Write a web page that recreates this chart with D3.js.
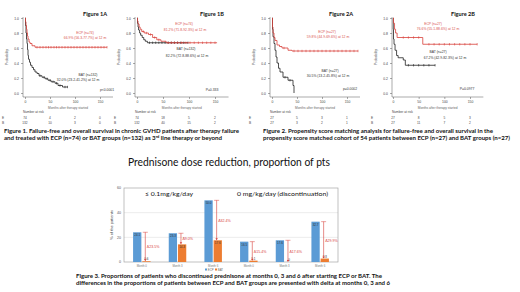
<!DOCTYPE html>
<html><head><meta charset="utf-8">
<script src="https://cdn.jsdelivr.net/npm/d3@7"></script>
<style>body{margin:0;background:#fff}svg{display:block}</style>
</head><body><svg id="c" width="520" height="292"></svg>
<script>
// ---------- KM data ----------
const kmXTicks = [0, 50, 100, 150];
const kmYTicks = [0, 0.2, 0.4, 0.6, 0.8, 1.0];

const f1aECP = [[0,1],[1,0.95],[2,0.9],[3,0.85],[4,0.8],[5,0.76],[6,0.72],[8,0.68],[10,0.66],[14,0.63],[20,0.61]];
const f1aECPEnd = 164;
const f1aECPCens = [24,30,36,42,47,52,58,63,68,74,80,86,92,98,104,110,116,122,128,134,140,146,152,158,164];
const f1aBAT = [[0,1],[1,0.9],[2,0.8],[3,0.72],[4,0.66],[5,0.58],[6,0.5],[7,0.45],[9,0.41],[11,0.37],[14,0.34],[17,0.31],[20,0.28],[24,0.26],[28,0.23],[34,0.21],[40,0.19],[46,0.17],[52,0.15],[60,0.13],[66,0.1],[75,0.08]];
const f1aBATEnd = 85;
const f1aBATCens = [30,38,44,50,56,63,70,80,85];

const f1bECP = [[0,1],[1,0.96],[2,0.92],[4,0.88],[6,0.85],[9,0.82],[14,0.8],[22,0.78],[30,0.74],[38,0.71],[46,0.69],[56,0.67]];
const f1bECPEnd = 154;
const f1bECPCens = [12,18,26,34,42,60,66,72,78,86,94,102,110,118,126,134,142,150];
const f1bBAT = [[0,1],[1,0.93],[2,0.88],[3,0.84],[5,0.8],[7,0.77],[10,0.74],[13,0.71],[16,0.69],[20,0.67]];
const f1bBATEnd = 98;
const f1bBATCens = [24,30,36,42,48,54,60,66,72,78,84,90,98];

const f2aECP = [[0,1],[1,0.88],[2,0.8],[4,0.74],[6,0.7],[10,0.64],[15,0.62],[20,0.6],[32,0.57],[40,0.56]];
const f2aECPEnd = 172;
const f2aECPCens = [24,44,52,60,68,76,84,92,100,108,116,124,132,140,148,156,164,172];
const f2aBAT = [[0,1],[1,0.85],[2,0.75],[4,0.66],[6,0.57],[8,0.48],[10,0.4],[13,0.33],[16,0.28],[22,0.21],[32,0.17],[42,0.1],[44,0]];
const f2aBATEnd = 44;
const f2aBATCens = [26,36];

const f2bECP = [[0,1],[1,0.93],[3,0.85],[5,0.8],[8,0.74],[58,0.65]];
const f2bECPEnd = 164;
const f2bECPCens = [20,30,40,50,70,80,90,100,110,120,130,140,150,164];
const f2bBAT = [[0,1],[0.5,0.85],[1,0.72],[2,0.65],[4,0.57],[7,0.5],[10,0.47],[20,0.44],[24,0.37]];
const f2bBATEnd = 82;
const f2bBATCens = [30,40,50,60,70,82];

const f1aRisk = [["74","4","2","0"],["132","10","3","0"]];
const f1bRisk = [["74","18","5","2"],["132","40","15","2"]];
const f2aRisk = [["27","5","3","1"],["27","3","2","1"]];
const f2bRisk = [["27","8","5","3"],["27","11","7","2"]];

// ---------- Bar data ----------
const barGroups = ["Month 0","Month 3","Month 6","Month 0","Month 3","Month 6"];
const ecpVals = [24.1, 23.3, 50.0, 16.5, 17.6, 32.7];
const batVals = [0.6, 14.3, 17.6, 1.1, 0, 2.8];
const deltaLabels = ["\u039423.5%","\u03949.0%","\u039432.4%","\u039415.4%","\u039417.6%","\u039429.9%"];
const barYTicks = [0, 20, 40, 60];

// ---------- drawing ----------
const svg = d3.select("#c");
const FONT = "'Liberation Sans', Arial, sans-serif";
const CAP = "Lato, 'Open Sans', sans-serif";
const RED = "#d8403a";
const TRED = "#d9534f";

function survAt(steps, t){ let s = steps[0][1]; for(const p of steps){ if(p[0] <= t) s = p[1]; } return s; }

function kmPanel(c){
  const g = svg.append("g");
  const x = d3.scaleLinear().domain([0,150]).range([c.x0, c.x150]);
  const y = d3.scaleLinear().domain([0,1]).range([93,18]);
  // axes lines
  g.append("line").attr("x1",c.axisX).attr("x2",c.axisX).attr("y1",17).attr("y2",97).attr("stroke","#555").attr("stroke-width",0.5);
  g.append("line").attr("x1",c.axisX).attr("x2",x(176)).attr("y1",97).attr("y2",97).attr("stroke","#555").attr("stroke-width",0.5);
  const ya = g.append("g").attr("transform",`translate(${c.axisX},0)`)
    .call(d3.axisLeft(y).tickValues(kmYTicks).tickSize(2).tickPadding(2).tickFormat(d3.format(".1f")));
  ya.select(".domain").remove();
  ya.selectAll("line").attr("stroke","#555").attr("stroke-width",0.5);
  ya.selectAll("text").attr("font-size",3.4).attr("font-family",FONT).attr("fill","#444");
  const xa = g.append("g").attr("transform",`translate(0,97)`)
    .call(d3.axisBottom(x).tickValues(kmXTicks).tickSize(2).tickPadding(1.5));
  xa.select(".domain").remove();
  xa.selectAll("line").attr("stroke","#555").attr("stroke-width",0.5);
  xa.selectAll("text").attr("font-size",3.4).attr("font-family",FONT).attr("fill","#444");
  g.append("text").attr("transform",`translate(${c.axisX-15},57) rotate(-90)`).attr("text-anchor","middle")
    .attr("font-size",3.4).attr("font-family",FONT).attr("fill","#444").text("Probability");
  g.append("text").attr("x",(c.axisX+x(176))/2).attr("y",108.5).attr("text-anchor","middle")
    .attr("font-size",3.2).attr("font-family",FONT).attr("fill","#666").text("Months after therapy started");
  g.append("text").attr("x",c.axisX).attr("y",113).attr("font-size",3.2).attr("font-family",FONT).attr("fill","#444").text("Number at risk");
  c.risk.forEach((row,ri)=>{
    g.append("text").attr("x",c.axisX-21).attr("y",118.5+ri*5).attr("font-size",3.2).attr("font-family",FONT).attr("fill","#444").text(ri===0?"E":"B");
    row.forEach((v,i)=>{
      g.append("text").attr("x",x(kmXTicks[i])).attr("y",118.5+ri*5).attr("text-anchor","middle")
        .attr("font-size",3.2).attr("font-family",FONT).attr("fill","#444").text(v);
    });
  });
  const line = d3.line().x(d=>x(d[0])).y(d=>y(d[1])).curve(d3.curveStepAfter);
  const curves = [
    {steps:c.ecp, end:c.ecpEnd, cens:c.ecpCens, col:RED},
    {steps:c.bat, end:c.batEnd, cens:c.batCens, col:"#222"}
  ];
  (c.batFirst ? curves : curves.slice().reverse()).forEach(cv=>{
    const pts = cv.steps.concat([[cv.end, cv.steps[cv.steps.length-1][1]]]);
    g.append("path").attr("d",line(pts)).attr("fill","none").attr("stroke",cv.col).attr("stroke-width",0.8);
    g.selectAll(null).data(cv.cens).enter().append("line")
      .attr("x1",d=>x(d)).attr("x2",d=>x(d)).attr("y1",d=>y(survAt(cv.steps,d))-1.2).attr("y2",d=>y(survAt(cv.steps,d))+1.2)
      .attr("stroke",cv.col).attr("stroke-width",0.6);
  });
  // title
  g.append("text").attr("x",c.titleX).attr("y",16).attr("font-size",5.6).attr("font-weight","bold").attr("font-family",CAP).attr("fill","#111").text(c.title);
  c.notes.forEach(n=>{
    g.append("text").attr("x",n[0]).attr("y",n[1]).attr("text-anchor","middle").attr("font-size",3.4)
      .attr("font-family",FONT).attr("fill",n[3]).text(n[2]);
  });
}

kmPanel({x0:25,x150:100,axisX:23,title:"Figure 1A",titleX:83,risk:f1aRisk,
  ecp:f1aECP,ecpEnd:f1aECPEnd,ecpCens:f1aECPCens,bat:f1aBAT,batEnd:f1aBATEnd,batCens:f1aBATCens,
  notes:[[85,34,"ECP (n=74)",TRED],[85,39,"66.9% (56.3-77.7%) at 12 m",TRED],[88,76,"BAT (n=132)","#333"],[78,81,"32.0% (23.2-41.2%) at 12 m","#333"],[107,91,"p<0.0001","#333"]]});
kmPanel({x0:137,x150:215,axisX:135,title:"Figure 1B",titleX:200,risk:f1bRisk,
  ecp:f1bECP,ecpEnd:f1bECPEnd,ecpCens:f1bECPCens,bat:f1bBAT,batEnd:f1bBATEnd,batCens:f1bBATCens,
  notes:[[184,25,"ECP (n=74)",TRED],[185,31,"81.2% (71.8-92.3%) at 12 m",TRED],[186,50,"BAT (n=132)","#333"],[187,57,"82.2% (72.8-88.6%) at 12 m","#333"],[212,91,"P=0.333","#333"]]});
kmPanel({x0:272,x150:347,axisX:270,title:"Figure 2A",titleX:329,risk:f2aRisk,
  ecp:f2aECP,ecpEnd:f2aECPEnd,ecpCens:f2aECPCens,bat:f2aBAT,batEnd:f2aBATEnd,batCens:f2aBATCens,
  notes:[[327,33,"ECP (n=27)",TRED],[328,38,"59.8% (44.9-69.6%) at 12 m",TRED],[330,72,"BAT (n=27)","#333"],[328,77,"30.5% (13.2-45.8%) at 12 m","#333"],[350,90,"p=0.0002","#333"]]});
kmPanel({x0:393,x150:470,axisX:392,title:"Figure 2B",titleX:451,risk:f2bRisk,
  ecp:f2bECP,ecpEnd:f2bECPEnd,ecpCens:f2bECPCens,bat:f2bBAT,batEnd:f2bBATEnd,batCens:f2bBATCens,
  notes:[[433,25,"ECP (n=27)",TRED],[438,30,"76.6% (55.1-88.6%) at 12 m",TRED],[438,53,"BAT (n=27)","#333"],[445,59,"67.2% (42.9-82.3%) at 12 m","#333"],[467,90,"P=0.0977","#333"]]});

// captions
function cap(x,y,len,parts,size){
  const t = svg.append("text").attr("x",x).attr("y",y).attr("font-size",size||5.6).attr("font-weight","bold")
    .attr("font-family",CAP).attr("fill","#111").attr("textLength",len).attr("lengthAdjust","spacingAndGlyphs");
  parts.forEach(p=>{
    const s = t.append("tspan").text(p.t);
    if(p.sup) s.attr("baseline-shift","super").attr("font-size",3.6);
  });
}
cap(4,133,235,[{t:"Figure 1. Failure-free and overall survival in chronic GVHD patients after therapy failure"}]);
cap(4,140,218,[{t:"and treated with ECP (n=74) or BAT groups (n=132) as 3"},{t:"rd",sup:true},{t:" line therapy or beyond"}]);
cap(263,133,230,[{t:"Figure 2. Propensity score matching analysis for failure-free and overall survival in the"}]);
cap(263,140,247,[{t:"propensity score matched cohort of 54 patients between ECP (n=27) and BAT groups (n=27)"}]);
cap(76,278,306,[{t:"Figure 3. Proportions of patients who discontinued prednisone at months 0, 3 and 6 after starting ECP or BAT. The"}]);
cap(76,285,314,[{t:"differences in the proportions of patients between ECP and BAT groups are presented with delta at months 0, 3 and 6"}]);

// main title
svg.append("text").attr("x",128).attr("y",166).attr("font-size",10.5).attr("font-family",CAP).attr("fill","#111")
  .attr("textLength",202).attr("lengthAdjust","spacingAndGlyphs").text("Prednisone dose reduction, proportion of pts");

// ---------- bar chart ----------
const bx = d3.scaleBand().domain(d3.range(barGroups.length)).range([124,338]);
const by = d3.scaleLinear().domain([0,60]).range([262,188]);
const sub = d3.scaleBand().domain(["ECP","BAT"]).range([0,17.5]).paddingInner(0.1);
const bg = svg.append("g");
bg.selectAll(null).data(barYTicks.filter(d=>d>0 && d<60)).enter().append("line")
  .attr("x1",124).attr("x2",338).attr("y1",d=>by(d)).attr("y2",d=>by(d)).attr("stroke","#d9d9d9").attr("stroke-width",0.5);
bg.append("rect").attr("x",124).attr("y",by(60)).attr("width",214).attr("height",by(0)-by(60))
  .attr("fill","none").attr("stroke","#a6a6a6").attr("stroke-width",0.7);
bg.selectAll(null).data(barYTicks).enter().append("text").attr("x",121).attr("y",d=>by(d)+1.2)
  .attr("text-anchor","end").attr("font-size",3.6).attr("font-family",FONT).attr("fill","#555").text(d=>d);
bg.append("text").attr("transform","translate(113,225) rotate(-90)").attr("text-anchor","middle")
  .attr("font-size",4).attr("font-family",FONT).attr("fill","#444").text("% of the patients");

const gx = i => bx(i) + bx.bandwidth()/2 - 8.75;
const series = [{k:"ECP",vals:ecpVals,col:"#5b9bd5"},{k:"BAT",vals:batVals,col:"#ed7d31"}];
series.forEach(s=>{
  bg.selectAll(null).data(s.vals).enter().append("rect")
    .attr("x",(d,i)=>gx(i)+sub(s.k)).attr("y",d=>by(d)).attr("width",sub.bandwidth())
    .attr("height",d=>by(0)-by(d)).attr("fill",s.col);
  bg.selectAll(null).data(s.vals).enter().append("text")
    .attr("x",(d,i)=>gx(i)+sub(s.k)+sub.bandwidth()/2).attr("y",d=> d>5 ? by(d)+4 : by(d)-1)
    .attr("text-anchor","middle").attr("font-size",3).attr("font-family",FONT).attr("fill","#333")
    .text(d=>d>0?d.toFixed(1):"0");
});
// deltas
ecpVals.forEach((v,i)=>{
  const ax = gx(i)+sub("BAT")+3;
  const y1 = by(v), y2 = by(batVals[i]);
  bg.append("line").attr("x1",ax-2.5).attr("x2",ax+2.5).attr("y1",y1).attr("y2",y1).attr("stroke",RED).attr("stroke-width",0.5);
  bg.append("line").attr("x1",ax).attr("x2",ax).attr("y1",y1).attr("y2",y2-1).attr("stroke",RED).attr("stroke-width",0.6);
  bg.append("path").attr("d",`M${ax-1.2},${y2-2}L${ax+1.2},${y2-2}L${ax},${y2}Z`).attr("fill",RED);
  bg.append("text").attr("x",ax+1.5).attr("y",(y1+y2)/2+1.5).attr("font-size",3.6).attr("font-family",FONT)
    .attr("fill",RED).text(deltaLabels[i]);
});
bg.selectAll(null).data(barGroups).enter().append("text").attr("x",(d,i)=>bx(i)+bx.bandwidth()/2).attr("y",266.5)
  .attr("text-anchor","middle").attr("font-size",2.8).attr("font-family",FONT).attr("fill","#777").text(d=>d);
bg.append("text").attr("x",145).attr("y",196).attr("font-size",6.4).attr("font-family",CAP).attr("fill","#111")
  .attr("textLength",48).attr("lengthAdjust","spacingAndGlyphs").text("\u2264 0.1mg/kg/day");
bg.append("text").attr("x",237).attr("y",196).attr("font-size",6.4).attr("font-family",CAP).attr("fill","#111")
  .attr("textLength",91).attr("lengthAdjust","spacingAndGlyphs").text("0 mg/kg/day (discontinuation)");
// legend
series.forEach((s,i)=>{
  bg.append("rect").attr("x",205+i*10).attr("y",268.5).attr("width",2).attr("height",2).attr("fill",s.col);
  bg.append("text").attr("x",207.8+i*10).attr("y",270.6).attr("font-size",2.8).attr("font-family",FONT).attr("fill","#666").text(s.k);
});
</script></body></html>
